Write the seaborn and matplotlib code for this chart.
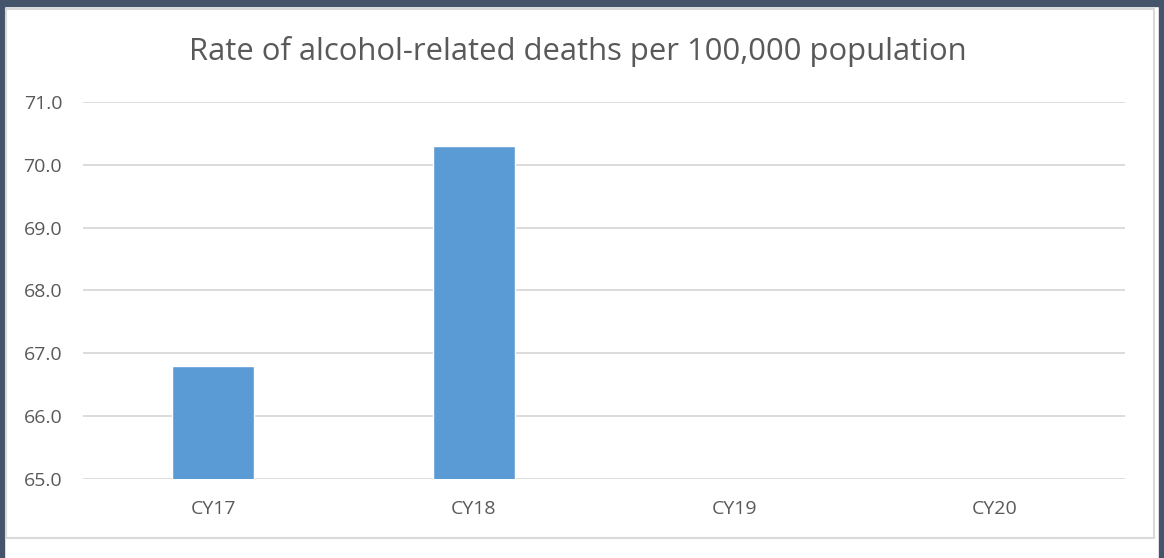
import numpy as np
import pandas as pd
import matplotlib
matplotlib.use("Agg")
import matplotlib.pyplot as plt
import seaborn as sns
from matplotlib.patches import Rectangle

# data
years = ["CY17", "CY18", "CY19", "CY20"]
rates = [66.8, 70.3, np.nan, np.nan]
y_ticks = [65.0, 66.0, 67.0, 68.0, 69.0, 70.0, 71.0]

df = pd.DataFrame({"year": years, "rate": rates})

sns.set_style("white")
plt.rcParams["font.family"] = ["Open Sans", "DejaVu Sans"]

text_col = "#595959"
grid_col = "#d9d9d9"

fig = plt.figure(figsize=(11.64, 5.58), dpi=100)
ax = fig.add_axes([0.0713, 0.1416, 0.8952, 0.6756])

sns.barplot(data=df, x="year", y="rate", order=years, color="#5B9BD5",
            saturation=1, width=0.315, ax=ax, zorder=3)

ax.set_ylim(65, 71)
ax.set_xlim(-0.5, 3.5)
ax.set_yticks(y_ticks)
ax.set_yticklabels([f"{t:.1f}" for t in y_ticks])
ax.yaxis.grid(True, color=grid_col, linewidth=1.3, zorder=0)
ax.set_axisbelow(True)
for s in ax.spines.values():
    s.set_visible(False)
ax.tick_params(axis="both", length=0, labelsize=14, colors=text_col)
ax.tick_params(axis="y", pad=15)
ax.tick_params(axis="x", pad=15)
ax.set_xlabel("")
ax.set_ylabel("")

fig.text(0.496, 0.908, "Rate of alcohol-related deaths per 100,000 population",
         ha="center", va="center", fontsize=22.3, color=text_col)

# outer dark frame and inner chart border
frame = "#44546A"
fig.patches.append(Rectangle((0, 1 - 6 / 558), 1, 6 / 558, transform=fig.transFigure,
                             color=frame, zorder=0))
fig.patches.append(Rectangle((0, 0), 4 / 1164, 1, transform=fig.transFigure,
                             color=frame, zorder=0))
fig.patches.append(Rectangle((1 - 5 / 1164, 0), 5 / 1164, 1, transform=fig.transFigure,
                             color=frame, zorder=0))
fig.patches.append(Rectangle((6 / 1164, 1 - 538 / 558), 1148 / 1164, 529 / 558,
                             transform=fig.transFigure, fill=False,
                             edgecolor="#d9d9d9", linewidth=1.5, zorder=0))

fig.savefig("out.png", dpi=100)
